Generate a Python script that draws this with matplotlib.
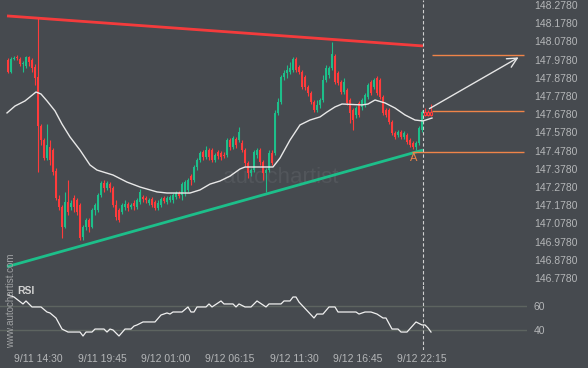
import matplotlib
matplotlib.use("Agg")
import matplotlib.pyplot as plt
import numpy as np

plt.rcParams['font.family'] = ['Liberation Sans', 'DejaVu Sans']

# ---------------- data ----------------
opens = [147.976,147.910,147.982,147.993,147.982,147.954,147.943,147.993,147.976,147.938,
         147.883,147.613,147.536,147.437,147.498,147.481,147.366,147.212,147.168,147.058,
         147.195,147.168,147.217,147.206,147.179,147.003,147.058,147.096,147.058,147.151,
         147.151,147.234,147.300,147.272,147.294,147.272,147.179,147.151,147.140,147.168,
         147.184,147.168,147.190,147.168,147.195,147.223,147.217,147.190,147.212,147.195,
         147.162,147.179,147.217,147.195,147.206,147.206,147.223,147.245,147.234,147.250,
         147.261,147.338,147.316,147.388,147.426,147.470,147.443,147.481,147.481,147.426,
         147.470,147.465,147.454,147.454,147.536,147.498,147.542,147.536,147.520,147.481,
         147.410,147.355,147.371,147.454,147.481,147.415,147.355,147.371,147.465,147.465,
         147.685,147.745,147.883,147.905,147.910,147.921,147.982,147.938,147.910,147.883,
         147.828,147.795,147.745,147.701,147.728,147.756,147.866,147.894,147.932,147.998,
         147.905,147.855,147.800,147.811,147.756,147.701,147.674,147.740,147.718,147.728,
         147.773,147.855,147.828,147.877,147.866,147.773,147.701,147.701,147.635,147.575,
         147.564,147.580,147.553,147.564,147.536,147.520,147.498,147.520,147.591,147.690,
         147.690,147.690]
closes = [147.910,147.982,147.987,147.987,147.954,147.960,147.993,147.965,147.932,147.877,
          147.613,147.536,147.437,147.509,147.426,147.360,147.217,147.168,147.058,147.195,
          147.140,147.190,147.168,147.140,146.997,147.058,147.096,147.058,147.151,147.179,
          147.234,147.300,147.272,147.300,147.272,147.179,147.113,147.096,147.179,147.184,
          147.162,147.179,147.173,147.206,147.250,147.212,147.206,147.206,147.179,147.162,
          147.190,147.212,147.200,147.217,147.223,147.234,147.245,147.228,147.294,147.305,
          147.316,147.316,147.388,147.426,147.465,147.443,147.481,147.443,147.426,147.454,
          147.448,147.443,147.448,147.536,147.498,147.547,147.509,147.580,147.481,147.410,
          147.355,147.371,147.470,147.481,147.415,147.355,147.371,147.465,147.410,147.685,
          147.745,147.883,147.905,147.921,147.932,147.982,147.921,147.910,147.828,147.828,
          147.795,147.745,147.701,147.728,147.756,147.866,147.932,147.932,148.009,147.855,
          147.850,147.800,147.855,147.740,147.685,147.646,147.712,147.674,147.756,147.784,
          147.839,147.795,147.866,147.795,147.773,147.685,147.674,147.635,147.575,147.553,
          147.580,147.553,147.575,147.525,147.509,147.498,147.520,147.602,147.690,147.674,
          147.674,147.674]
highs = [147.987,147.993,147.998,148.004,147.993,147.971,147.998,147.998,147.987,147.954,
         148.207,147.624,147.547,147.624,147.536,147.492,147.382,147.234,147.179,147.250,
         147.316,147.206,147.234,147.217,147.190,147.069,147.107,147.107,147.162,147.190,
         147.245,147.311,147.316,147.311,147.305,147.283,147.206,147.162,147.190,147.206,
         147.195,147.190,147.206,147.217,147.266,147.234,147.228,147.217,147.223,147.206,
         147.206,147.223,147.228,147.228,147.234,147.245,147.256,147.256,147.305,147.316,
         147.327,147.349,147.399,147.437,147.476,147.481,147.503,147.492,147.492,147.465,
         147.481,147.476,147.470,147.547,147.547,147.558,147.553,147.608,147.536,147.492,
         147.421,147.382,147.481,147.492,147.492,147.426,147.382,147.481,147.481,147.701,
         147.767,147.894,147.921,147.949,147.965,147.993,147.993,147.949,147.921,147.894,
         147.839,147.806,147.756,147.756,147.767,147.894,147.949,147.943,148.075,148.009,
         147.916,147.866,147.877,147.822,147.767,147.712,147.723,147.751,147.767,147.795,
         147.850,147.866,147.877,147.888,147.877,147.784,147.712,147.712,147.646,147.586,
         147.591,147.591,147.586,147.575,147.547,147.531,147.531,147.613,147.701,147.712,
         147.701,147.734]
lows = [147.905,147.905,147.976,147.976,147.943,147.910,147.932,147.943,147.910,147.838,
        147.360,147.509,147.426,147.426,147.398,147.344,147.206,147.151,146.997,147.052,
        147.124,147.151,147.140,147.124,146.986,146.986,147.041,147.030,147.052,147.124,
        147.140,147.223,147.250,147.261,147.250,147.168,147.096,147.085,147.129,147.151,
        147.146,147.157,147.151,147.157,147.184,147.195,147.190,147.179,147.168,147.151,
        147.151,147.168,147.190,147.184,147.195,147.190,147.212,147.217,147.206,147.228,
        147.250,147.288,147.305,147.371,147.415,147.426,147.432,147.426,147.415,147.415,
        147.432,147.426,147.437,147.443,147.481,147.487,147.492,147.525,147.470,147.393,
        147.327,147.338,147.360,147.437,147.398,147.316,147.250,147.360,147.398,147.454,
        147.674,147.734,147.866,147.877,147.899,147.910,147.910,147.899,147.817,147.811,
        147.778,147.734,147.690,147.690,147.712,147.745,147.855,147.877,147.921,147.844,
        147.839,147.789,147.789,147.728,147.629,147.591,147.657,147.663,147.701,147.718,
        147.762,147.784,147.817,147.784,147.762,147.674,147.663,147.624,147.564,147.542,
        147.553,147.542,147.542,147.514,147.498,147.487,147.481,147.509,147.580,147.668,
        147.668,147.668]

ma_bar = [-0.33,2.33,5.67,7.33,9.33,11,13,15.67,18,20.67,24,27.33,29.67,35,39.67,44,49.67,
          53,60.67,64,67.33,70.67,74,77.33,79,88.33,90.67,94,97.33,100.67,104,106.33,109,
          111.33,118,120,122.33,125.67,129,132.33,135.67,138.33,141.33]
ma_val = [147.685,147.723,147.751,147.773,147.800,147.789,147.751,147.696,147.624,147.553,
          147.481,147.399,147.371,147.344,147.305,147.278,147.251,147.245,147.245,147.262,
          147.294,147.311,147.338,147.377,147.388,147.388,147.437,147.536,147.619,147.646,
          147.663,147.690,147.718,147.734,147.729,147.734,147.756,147.740,147.712,147.674,
          147.646,147.641,147.657]

rsi_bar = [0,2,5,6,8,11,13,14,16,18,20,24,25,26,28,29,32,33,34,35,37,39,41,42,43,45,49,51,
           53,54,55,58,60,61,62,63,66,67,68,71,72,75,76,77,79,81,83,86,87,91,92,94,95,96,97,
           102,103,105,107,109,110,116,117,119,121,123,125,126,128,130,131,133,136,138,139,
           140,141]
rsi_val = [69.2,67.5,61.7,64.2,59.2,59.2,55.0,54.2,50.0,40.8,38.3,38.3,35.0,38.3,38.3,40.8,
           40.8,38.3,40.8,40.0,35.0,40.8,40.8,43.3,44.2,46.7,46.7,52.5,54.2,53.3,55.0,55.0,
           59.2,55.0,55.0,59.2,59.2,61.7,59.2,64.2,61.7,61.7,59.2,61.7,59.2,59.2,64.2,59.2,
           61.7,61.7,64.2,64.2,67.5,67.5,63.3,50.0,53.3,53.3,59.2,59.2,55.0,55.0,53.3,55.0,
           55.0,53.3,50.0,50.0,40.8,40.8,38.3,38.3,46.7,44.2,44.2,41.7,38.3]

price_ticks = [148.278,148.178,148.078,147.978,147.878,147.778,147.678,147.578,147.478,
               147.378,147.278,147.178,147.078,146.978,146.878,146.778]
date_pos = [10,31.33,52.67,74,95.33,116.67,138]
date_labels = ["9/11 14:30","9/11 19:45","9/12 01:00","9/12 06:15","9/12 11:30",
               "9/12 16:45","9/12 22:15"]

resist_bar = [-0.33, 138.33]
resist_val = [148.218, 148.053]
support_bar = [-0.33, 138.33]
support_val = [146.840, 147.481]

level_hi = 148.003
level_mid = 147.696
level_lo = 147.470
arrow_from = (139.67, 147.701)
arrow_to = (171.0, 147.998)
point_a = (135.33, 147.437)
now_bar = 138.33
live_from = 139

# ---------------- style ----------------
BG = '#464a4f'
GREEN = '#1dbf8a'
RED = '#ff3b3b'
ORANGE = '#ef8449'
TXT = '#b4b6b8'
W, H = 588, 368

def rect(x0, y0, x1, y1):
    return [x0 / W, 1 - y1 / H, (x1 - x0) / W, (y1 - y0) / H]

fig = plt.figure(figsize=(W / 100, H / 100), dpi=100, facecolor=BG)
ax = fig.add_axes(rect(0, 0, 527, 285))
rax = fig.add_axes(rect(0, 285, 527, 350))
for a in (ax, rax):
    a.set_facecolor(BG)
    for s in a.spines.values():
        s.set_visible(False)
    a.set_xlim(-2.667, 173)

ax.set_ylim(146.7396, 148.3055)

# watermark
ax.text(91.0, 147.33, "autochartist", fontsize=16, color='#52565b',
        ha='center', va='center', zorder=0)

o = np.array(opens); c = np.array(closes); h = np.array(highs); l = np.array(lows)
idx = np.arange(len(o))
up = c >= o
cols = np.where(up, GREEN, RED)
bottom = np.minimum(o, c)
height = np.maximum(np.abs(c - o), 0.006)
solid = idx < live_from
ax.vlines(idx, l, h, colors=cols, lw=0.8, zorder=2)
ax.bar(idx[solid], height[solid], bottom=bottom[solid], width=0.8,
       color=cols[solid], linewidth=0, zorder=3)
ax.bar(idx[~solid], height[~solid], bottom=bottom[~solid], width=0.75,
       facecolor=BG, edgecolor=RED, linewidth=0.8, zorder=3)

ax.plot(ma_bar, ma_val, color='#e8e8e8', lw=1.0, zorder=4)
ax.plot(resist_bar, resist_val, color=RED, lw=2.0, alpha=0.95, zorder=5,
        solid_capstyle='butt')
ax.plot(support_bar, support_val, color=GREEN, lw=2.0, zorder=5,
        solid_capstyle='butt')

ax.hlines([level_hi, level_mid], 141.33, 172, colors=ORANGE, lw=1.0, zorder=5)
ax.hlines([level_lo], 134.67, 172, colors=ORANGE, lw=1.0, zorder=5)
ax.annotate("", xy=arrow_to, xytext=arrow_from,
            arrowprops=dict(arrowstyle='->,head_length=0.7,head_width=0.35',
                            color='#e6e6e6', lw=1.0), zorder=6)
ax.text(point_a[0], point_a[1], "A", color=ORANGE, fontsize=8,
        ha='center', va='center', zorder=6)

for a in (ax, rax):
    a.axvline(now_bar, color='#d0d0d0', lw=0.8, ls=(0, (3, 2)), zorder=6)

ax.set_xticks([])
ax.yaxis.tick_right()
ax.set_yticks(price_ticks)
ax.set_yticklabels([f"{v:.4f}" for v in price_ticks])
ax.tick_params(axis='y', length=0, pad=5, labelcolor=TXT, labelsize=7.5)

# RSI panel
rax.set_ylim(23.33, 77.5)
rax.axhline(60, color='#5d6460', lw=1.0, zorder=1)
rax.axhline(40, color='#5d6460', lw=1.0, zorder=1)
rax.plot(rsi_bar, rsi_val, color='#f0f0f0', lw=0.9, zorder=3)
rax.yaxis.tick_right()
rax.set_yticks([40, 60])
rax.set_yticklabels(["40", "60"])
rax.tick_params(axis='y', length=0, pad=5, labelcolor=TXT, labelsize=7.5)
rax.set_xticks(date_pos)
rax.set_xticklabels(date_labels)
rax.tick_params(axis='x', length=0, pad=3, labelcolor=TXT, labelsize=7.5)

fig.text(17 / W, 1 - 291 / H, "RSI", color='#d2d2d2', fontsize=7.5,
         fontweight='bold', ha='left', va='center')
fig.text(11 / W, 1 - 348 / H, "www.autochartist.com", color='#a0a2a4',
         fontsize=7.0, rotation=90, ha='center', va='bottom')

fig.savefig("out.png", dpi=100, facecolor=BG)
